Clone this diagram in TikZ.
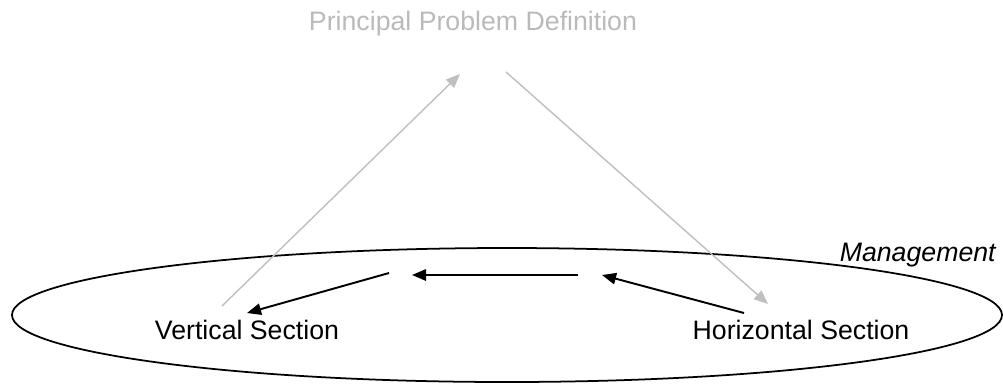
\documentclass[tikz,border=0pt]{standalone}
\usepackage{fontspec}
\setmainfont{Liberation Sans}
\usetikzlibrary{arrows.meta}

\begin{document}
\begin{tikzpicture}[x=0.02cm, y=-0.02cm,
  txt/.style={font=\fontsize{15.2}{18}\selectfont, inner sep=0pt},
  flow/.style={-{Triangle[length=8pt, width=6.5pt]}, line width=1.1pt},
  feed/.style={-{Triangle[length=8pt, width=6.5pt]}, draw=black!25,
               line width=0.8pt}
]
  \useasboundingbox (0,0) rectangle (1003,383);

  % management ring
  \draw[line width=1pt] (507,315) ellipse [x radius=495, y radius=67];

  \node[txt, text=black!27]  (ppd)  at (473,24)  {Principal Problem Definition};
  \node[txt]                 (vert) at (247,330) {Vertical Section};
  \node[txt]                 (hor)  at (801,330) {Horizontal Section};
  \node[txt, anchor=east]    (mgmt) at (996,255) {\itshape Management};

  % free ends of the connectors
  \coordinate (vs-up)  at (222,306);
  \coordinate (pd-in)  at (460,74);
  \coordinate (pd-out) at (506,72);
  \coordinate (hs-in)  at (768,304);
  \coordinate (hs-out) at (744,313);
  \coordinate (mid-r)  at (602,275);
  \coordinate (mid-rs) at (578,275);
  \coordinate (mid-l)  at (412,275);
  \coordinate (mid-ls) at (389,273);
  \coordinate (vs-in)  at (247,313);

  \draw[feed] (vs-up) -- (pd-in);
  \draw[feed] (pd-out) -- (hs-in);

  \draw[flow] (hs-out) -- (mid-r);
  \draw[flow] (mid-rs) -- (mid-l);
  \draw[flow] (mid-ls) -- (vs-in);
\end{tikzpicture}
\end{document}
